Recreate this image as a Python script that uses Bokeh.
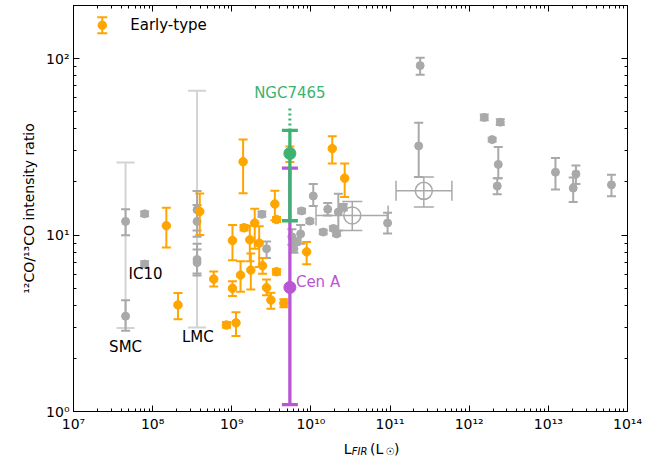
import math
from bokeh.plotting import figure
from bokeh.layouts import column
from bokeh.models import Range1d, LogAxis, FixedTicker, CustomJSTickFormatter, Label
from bokeh.core.properties import value
from bokeh.embed import file_html
from bokeh.resources import INLINE

# ---------------- data ----------------
# Early-type galaxies: L_FIR (Lsun), ratio, lower, upper
early_L = [1.49e8, 2.09e8, 3.94e8, 5.91e8, 1.02e9, 1.02e9, 8.57e8, 1.13e9, 1.29e9,
           1.43e9, 1.69e9, 1.74e9, 1.95e9, 2.22e9, 2.45e9, 3.50e9, 3.68e9, 3.68e9,
           2.75e9, 3.12e9, 4.55e9, 1.39e9, 1.86e10, 2.67e10, 8.83e9, 5.42e9]
early_R = [11.3, 4.02, 13.6, 5.63, 9.32, 4.99, 3.09, 3.18, 5.93,
           11.0, 9.4, 6.33, 11.7, 9.0, 6.7, 15.0, 12.25, 6.2,
           5.03, 4.28, 4.11, 26.05, 30.9, 21.0, 8.03, 29.1]
early_lo = [8.5, 3.33, 10.0, 5.11, 7.2, 4.51, 2.98, 2.68, 4.77,
            10.6, 7.1, 4.92, 8.37, 6.6, 6.04, 12.15, 11.85, 5.96,
            4.56, 3.82, 3.9, 17.25, 25.45, 16.45, 6.84, 25.95]
early_hi = [14.3, 4.70, 17.2, 6.22, 11.4, 5.48, 3.22, 3.65, 7.10,
            11.4, 11.3, 7.85, 14.1, 11.2, 7.42, 17.85, 12.65, 6.42,
            5.6, 4.71, 4.32, 34.85, 36.35, 25.45, 9.13, 31.8]

# Other galaxies (grey)
other_L = [4.55e7, 4.55e7, 7.92e7, 7.92e7, 3.64e8, 3.64e8, 3.64e8, 3.64e8, 2.40e9,
           2.75e9, 7.62e9, 9.7e9, 1.07e10, 1.63e10, 2.22e10, 2.56e10, 1.43e10, 1.92e10,
           2.11e10, 9.3e10, 2.40e11, 2.30e11, 1.55e12, 2.47e12, 1.95e12, 2.33e12, 2.26e12,
           1.23e13, 2.06e13, 2.23e13, 6.27e13, 5.74e9, 6.1e9, 7.41e9, 6.46e9]
other_R = [11.95, 3.47, 13.2, 6.85, 13.9, 11.95, 7.27, 6.98, 13.1,
           8.37, 13.7, 12.0, 16.65, 14.0, 13.5, 14.4, 10.4, 10.9,
           10.15, 11.7, 91.3, 32.0, 46.4, 43.6, 34.75, 25.15, 18.95,
           22.7, 18.45, 22.2, 19.25, 9.78, 8.37, 10.15, 9.17]
other_lo = [9.96, 2.87, 12.8, 6.63, 10.6, 9.78, 6.06, 5.9, 12.7,
            7.42, 13.3, 11.65, 14.6, 12.9, 10.6, 13.8, 10.1, 10.6,
            9.9, 10.2, 81.1, 21.3, 44.7, 42.0, 33.85, 21.0, 17.05,
            18.15, 15.4, 19.45, 16.6, 8.81, 7.95, 8.94, 8.77]
other_hi = [14.0, 4.27, 13.6, 7.1, 17.75, 14.8, 8.94, 8.27, 13.6,
            9.2, 14.1, 12.35, 19.5, 15.2, 17.15, 15.0, 10.7, 11.2,
            10.5, 13.4, 101.2, 43.3, 48.2, 45.3, 35.65, 31.6, 21.0,
            27.3, 21.2, 24.75, 22.0, 10.8, 8.77, 11.4, 9.6]

# Magellanic Clouds: full range of ratios
cloud_names = ["SMC", "LMC"]
cloud_L = [4.55e7, 3.64e8]
cloud_lo = [2.97, 2.99]
cloud_hi = [25.8, 65.8]

# Averages (open circles)
mean_L = [3.33e10, 2.67e11]
mean_L_lo = [1.16e10, 1.19e11]
mean_L_hi = [9.44e10, 6.04e11]
mean_R = [12.9, 17.8]
mean_R_lo = [10.6, 14.4]
mean_R_hi = [15.5, 21.3]

# NGC7465 and Cen A
ngc_L = [5.42e9]
ngc_R = [29.0]
ngc_lo = [12.05]
ngc_hi = [39.2]
ngc_limit = [52.8]

cena_L = [5.42e9]
cena_R = [5.05]
cena_lo = [1.095]
cena_hi = [23.95]

x_major = [10.0 ** k for k in range(7, 15)]
y_major = [1, 10, 100]

# ---------------- styles ----------------
FONT = "DejaVu Sans"
ORANGE = "#FFA500"
GREY = "#A9A9A9"
LIGHT = "#D3D3D3"
GREEN = "#3CB371"
PURPLE = "#BA55D3"
W = 650

p = figure(width=W, height=434, x_axis_type="log", y_axis_type="log",
           x_range=Range1d(1e7, 1e14), y_range=Range1d(1, 200),
           output_backend="svg", toolbar_location=None,
           min_border_left=73, min_border_right=23, min_border_top=5,
           min_border_bottom=20)
p.grid.visible = False
p.outline_line_color = "black"
p.outline_line_width = 1
p.background_fill_color = "white"
p.border_fill_color = "white"

x_minor = [m * 10.0 ** k for k in range(7, 14) for m in range(2, 10)]
y_minor = [m * 10.0 ** k for k in range(0, 3) for m in range(2, 10)]

sup_fmt = CustomJSTickFormatter(code="""
const s = {'0':'\u2070','1':'\u00b9','2':'\u00b2','3':'\u00b3','4':'\u2074','5':'\u2075',
           '6':'\u2076','7':'\u2077','8':'\u2078','9':'\u2079','-':'\u207b'};
const e = Math.round(Math.log10(tick));
return '10' + String(e).split('').map(c => s[c]).join('');
""")
empty_fmt = CustomJSTickFormatter(code="return '';")


def style_axis(ax):
    ax.major_tick_in = 6
    ax.major_tick_out = 0
    ax.minor_tick_in = 3
    ax.minor_tick_out = 0
    ax.axis_line_color = "black"
    ax.major_tick_line_color = "black"
    ax.minor_tick_line_color = "black"
    ax.major_label_text_font = FONT
    ax.major_label_text_font_size = "14px"
    ax.major_label_text_color = "black"


xax = p.xaxis[0]
xax.ticker = FixedTicker(ticks=x_major, minor_ticks=x_minor)
xax.formatter = sup_fmt
style_axis(xax)
xax.major_label_standoff = 4

yax = p.yaxis[0]
yax.ticker = FixedTicker(ticks=y_major, minor_ticks=y_minor)
yax.formatter = sup_fmt
style_axis(yax)
yax.major_label_standoff = 4
yax.axis_label = "\u00b9\u00b2CO/\u00b9\u00b3CO intensity ratio"
yax.axis_label_text_font = FONT
yax.axis_label_text_font_size = "14px"
yax.axis_label_text_font_style = "normal"
yax.axis_label_text_color = "black"
yax.axis_label_standoff = 6

top = LogAxis(ticker=FixedTicker(ticks=x_major, minor_ticks=x_minor), formatter=empty_fmt)
style_axis(top)
top.major_label_text_font_size = "0px"
top.major_label_standoff = 0
p.add_layout(top, "above")
right = LogAxis(ticker=FixedTicker(ticks=y_major, minor_ticks=y_minor), formatter=empty_fmt)
style_axis(right)
right.major_label_text_font_size = "0px"
right.major_label_standoff = 0
p.add_layout(right, "right")


def errbars(xs, lo, hi, color, lw, cap):
    p.segment(x0=xs, y0=lo, x1=xs, y1=hi, line_color=color, line_width=lw)
    p.scatter(x=list(xs) + list(xs), y=list(lo) + list(hi), marker="dash",
              size=cap, line_color=color, line_width=lw)


# Magellanic cloud ranges
errbars(cloud_L, cloud_lo, cloud_hi, LIGHT, 2, 18)

# other galaxies
errbars(other_L, other_lo, other_hi, GREY, 2, 9)
p.scatter(x=other_L, y=other_R, size=8, fill_color=GREY, line_color=GREY)

# averages
errbars(mean_L, mean_R_lo, mean_R_hi, GREY, 1.5, 20)
p.segment(x0=mean_L_lo, y0=mean_R, x1=mean_L_hi, y1=mean_R, line_color=GREY, line_width=1.5)
p.scatter(x=mean_L_lo + mean_L_hi, y=mean_R + mean_R, marker="dash", angle=math.pi / 2,
          size=20, line_color=GREY, line_width=1.5)
p.scatter(x=mean_L, y=mean_R, size=17, fill_color=None, line_color=GREY, line_width=1.5)

# early types
errbars(early_L, early_lo, early_hi, ORANGE, 2, 9)
p.scatter(x=early_L, y=early_R, size=8.5, fill_color=ORANGE, line_color=ORANGE)

# Cen A
errbars(cena_L, cena_lo, cena_hi, PURPLE, 3.3, 16)
p.scatter(x=cena_L, y=cena_R, size=12, fill_color=PURPLE, line_color=PURPLE)

# NGC7465
p.segment(x0=ngc_L, y0=ngc_hi, x1=ngc_L, y1=ngc_limit, line_color=GREEN,
          line_width=3, line_dash="2 3")
errbars(ngc_L, ngc_lo, ngc_hi, GREEN, 3.3, 16)
p.scatter(x=ngc_L, y=ngc_R, size=12, fill_color=GREEN, line_color=GREEN)


# text labels
def lab(x, y, text, color="black", align="center", size="15px"):
    p.add_layout(Label(x=x, y=y, text=text, text_color=color, text_align=align,
                       text_baseline="middle", text_font=FONT, text_font_size=size))


lab(cloud_L[0], 2.32, cloud_names[0])
lab(3.72e8, 2.64, cloud_names[1])
lab(8.15e7, 5.98, "IC10")
lab(ngc_L[0], 64.0, "NGC7465", color=GREEN)
lab(6.46e9, 5.39, "Cen A", color=PURPLE, align="left")

# legend (manual)
LEG_X, LEG_Y = 2.31e7, 154.5
LEG_CAP = 1.11
p.segment(x0=[LEG_X], y0=[LEG_Y / LEG_CAP], x1=[LEG_X], y1=[LEG_Y * LEG_CAP],
          line_color=ORANGE, line_width=2)
p.scatter(x=[LEG_X, LEG_X], y=[LEG_Y / LEG_CAP, LEG_Y * LEG_CAP], marker="dash",
          size=10, line_color=ORANGE, line_width=2)
p.scatter(x=[LEG_X], y=[LEG_Y], size=8.5, fill_color=ORANGE, line_color=ORANGE)
lab(5.21e7, LEG_Y, "Early-type", align="left")

# x-axis label strip (subscript FIR, sun symbol)
q = figure(width=W, height=22, x_range=Range1d(0, W), y_range=Range1d(0, 22),
           output_backend="svg", toolbar_location=None,
           min_border_left=0, min_border_right=0, min_border_top=0, min_border_bottom=0)
q.axis.visible = False
q.grid.visible = False
q.outline_line_color = None
q.background_fill_color = "white"
q.border_fill_color = "white"

xlab_parts = ["L", "FIR", "(L", "\u2609", ")"]
xlab_x = [317, 326.5, 348, 366, 376]
xlab_y = [8, 5, 8, 5, 8]
xlab_size = ["14px", "10px", "14px", "10px", "14px"]
xlab_style = ["normal", "italic", "normal", "normal", "normal"]
for t, xx, yy, sz, st in zip(xlab_parts, xlab_x, xlab_y, xlab_size, xlab_style):
    q.text(x=[xx], y=[yy], text=[t], text_font=value(FONT), text_font_size=sz,
           text_font_style=st, text_color="black", text_align="left",
           text_baseline="alphabetic")

open("out.html", "w").write(file_html(column(p, q, spacing=0), INLINE))
